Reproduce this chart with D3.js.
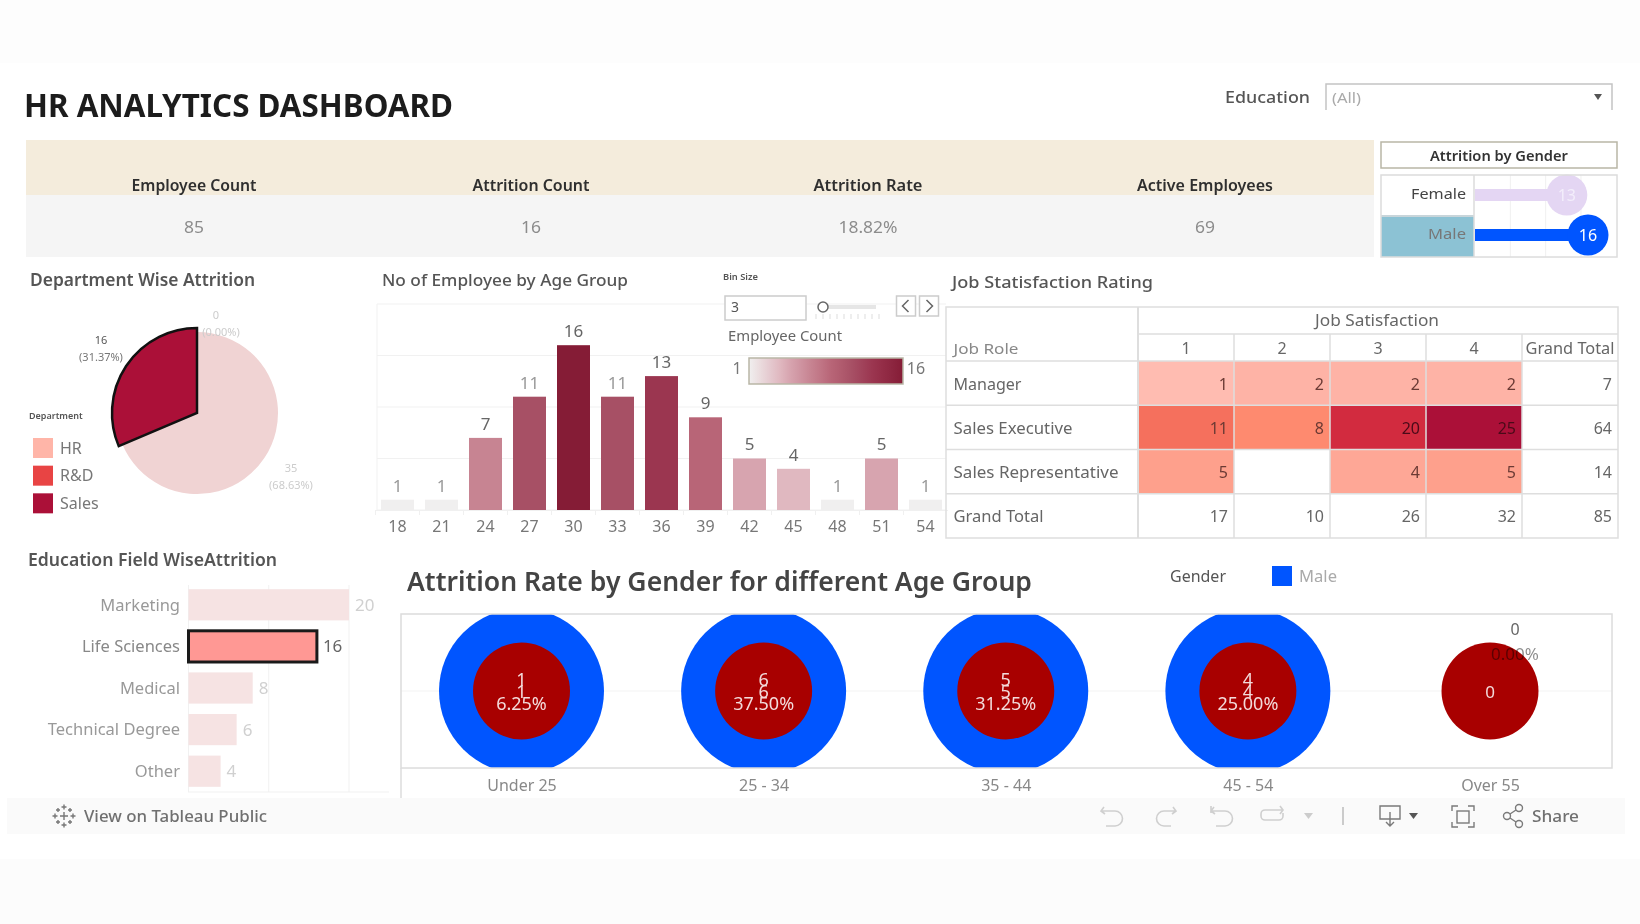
<!DOCTYPE html>
<html>
<head>
<meta charset="utf-8">
<title>HR Analytics Dashboard</title>
<script src="https://cdn.jsdelivr.net/npm/d3@7"></script>
<style>
  html, body { margin: 0; padding: 0; background: #fff; }
  svg { display: block; filter: blur(0.5px); }
  text { font-family: "Noto Sans", sans-serif; }
</style>
</head>
<body>
<svg></svg>
<script>
var width = 1640,
    height = 924;

// kpi strip
var kpiNames = ["Employee Count", "Attrition Count", "Attrition Rate", "Active Employees"];
var kpiValues = ["85", "16", "18.82%", "69"];

// attrition by gender
var genders = ["Female", "Male"];
var genderCounts = [13, 16];

// department pie
var departments = ["HR", "R&D", "Sales"];
var departmentCounts = [0, 35, 16];
var departmentPct = ["0.00%", "68.63%", "31.37%"];

// employees by age bin
var ageBins = [18, 21, 24, 27, 30, 33, 36, 39, 42, 45, 48, 51, 54];
var ageCounts = [1, 1, 7, 11, 16, 11, 13, 9, 5, 4, 1, 5, 1];

// job satisfaction table
var jobRoles = ["Manager", "Sales Executive", "Sales Representative", "Grand Total"];
var satLevels = ["1", "2", "3", "4", "Grand Total"];
var managerRow = [1, 2, 2, 2, 7];
var salesExecRow = [11, 8, 20, 25, 64];
var salesRepRow = [5, null, 4, 5, 14];
var totalRow = [17, 10, 26, 32, 85];

// education field
var eduFields = ["Marketing", "Life Sciences", "Medical", "Technical Degree", "Other"];
var eduCounts = [20, 16, 8, 6, 4];

// attrition rate by age band
var ageBands = ["Under 25", "25 - 34", "35 - 44", "45 - 54", "Over 55"];
var bandCounts = [1, 6, 5, 4, 0];
var bandRates = ["6.25%", "37.50%", "31.25%", "25.00%", "0.00%"];

var svg = d3.select("svg").attr("width", width).attr("height", height);

function txt(parent, s, x, y, o) {
  o = o || {};
  var t = parent.append("text")
    .attr("x", x).attr("y", y).attr("dy", "0.35em")
    .attr("font-size", o.size || 16)
    .attr("font-weight", o.weight || 400)
    .attr("fill", o.fill || "#666")
    .attr("text-anchor", o.anchor || "start")
    .text(s);
  if (o.w) t.attr("textLength", o.w).attr("lengthAdjust", "spacingAndGlyphs");
  if (o.opacity) t.attr("opacity", o.opacity);
  return t;
}

// page background bands
svg.append("rect").attr("width", width).attr("height", height).attr("fill", "#fff");
svg.append("rect").attr("width", width).attr("height", 63).attr("fill", "#fdfdfd");
svg.append("rect").attr("y", 859).attr("width", width).attr("height", 65).attr("fill", "#fcfcfc");

txt(svg, "HR ANALYTICS DASHBOARD", 24, 106, {size: 32, weight: 700, fill: "#1c1c1c", w: 429});

// education filter
txt(svg, "Education", 1225, 97, {size: 17, weight: 500, fill: "#555", w: 85});
svg.append("path").attr("d", "M1326,110V84H1612V110").attr("fill", "none").attr("stroke", "#c4c4c4").attr("stroke-width", 1.5);
txt(svg, "(All)", 1332, 98, {size: 14, fill: "#aaa", w: 29});
svg.append("path").attr("d", "M1594,94h8l-4,6z").attr("fill", "#555");

// kpi strip
var kpiX = d3.scalePoint().domain(kpiNames).range([194, 1205]);
svg.append("rect").attr("x", 26).attr("y", 140).attr("width", 1348).attr("height", 55).attr("fill", "#f4ecdc");
svg.append("rect").attr("x", 26).attr("y", 195).attr("width", 1348).attr("height", 62).attr("fill", "#f5f5f5");
var kpiW = [125, 117, 109, 136];
var kpiValW = [20, 20, 59, 20];
kpiNames.forEach(function(d, i) {
  txt(svg, d, kpiX(d), 185, {size: 16, weight: 600, fill: "#2f2f2f", anchor: "middle", w: kpiW[i]});
  txt(svg, kpiValues[i], kpiX(d), 227, {size: 16, fill: "#8c8c8c", anchor: "middle", w: kpiValW[i]});
});

// attrition by gender
function drawGender() {
  var g = svg.append("g");
  g.append("rect").attr("x", 1381).attr("y", 142).attr("width", 236).attr("height", 26)
    .attr("fill", "#fff").attr("stroke", "#b9b6a6").attr("stroke-width", 1.5);
  txt(g, "Attrition by Gender", 1499, 156.5, {size: 14, weight: 600, fill: "#333", anchor: "middle", w: 138});

  var x = d3.scaleLinear().domain([0, 16]).range([1475, 1588]);
  var y = d3.scaleBand().domain(genders).range([175, 255]);
  var barColor = {Female: "#e4d6f3", Male: "#0055ff"};

  g.append("rect").attr("x", 1381).attr("y", y("Male")).attr("width", 93).attr("height", 42).attr("fill", "#8cc2d4");
  g.selectAll(".grid").data([5, 10, 15]).enter().append("line")
    .attr("x1", x).attr("x2", x).attr("y1", 175).attr("y2", 257).attr("stroke", "#f0f0f0");
  g.selectAll(".bar").data(genders).enter().append("rect")
    .attr("x", x(0)).attr("y", function(d) { return y(d) + y.bandwidth() / 2 - 6; })
    .attr("width", function(d, i) { return x(genderCounts[i]) - x(0); })
    .attr("height", 12).attr("fill", function(d) { return barColor[d]; });
  g.selectAll(".dot").data(genders).enter().append("circle")
    .attr("cx", function(d, i) { return x(genderCounts[i]); })
    .attr("cy", function(d) { return y(d) + y.bandwidth() / 2; })
    .attr("r", 20.5).attr("fill", function(d) { return barColor[d]; });
  genders.forEach(function(d, i) {
    var mid = y(d) + y.bandwidth() / 2;
    txt(g, d, 1466, mid - 1, {size: 15, fill: d == "Male" ? "#777" : "#444", anchor: "end", w: d == "Male" ? 38 : 55});
    txt(g, genderCounts[i], x(genderCounts[i]), mid, {size: 16, fill: d == "Male" ? "#fff" : "#f3eefb", anchor: "middle"});
  });
  g.append("rect").attr("x", 1381).attr("y", 175).attr("width", 236).attr("height", 82)
    .attr("fill", "none").attr("stroke", "#dcdcdc").attr("stroke-width", 1.5);
  g.append("path").attr("d", "M1474,175V257M1381,216H1474").attr("stroke", "#dcdcdc").attr("stroke-width", 1.5);
}
drawGender();

// department pie
function drawDepartment() {
  var g = svg.append("g");
  txt(g, "Department Wise Attrition", 30, 280, {size: 17, weight: 600, fill: "#555", w: 225});

  var deptColor = d3.scaleOrdinal().domain(departments).range(["#ffb5a8", "#e84444", "#ab1038"]);
  var pie = d3.pie().sort(null)(departmentCounts);
  // the selected slice sits a little proud of the others
  var arc = d3.arc().innerRadius(0).outerRadius(function(d) { return d.index == 2 ? 85 : 81; });
  var pieG = g.append("g").attr("transform", "translate(197,413)");

  // labels go under the pie, the 0.00% one is mostly hidden
  txt(g, departmentCounts[0], 216, 315, {size: 11, fill: "#ccc", anchor: "middle"});
  txt(g, "(" + departmentPct[0] + ")", 221, 332, {size: 11, fill: "#ccc", anchor: "middle"});

  pieG.selectAll("path").data(pie).enter().append("path")
    .attr("d", arc)
    .attr("fill", function(d, i) { return departments[i] == "Sales" ? deptColor("Sales") : "#f0d3d3"; })
    .attr("stroke", function(d, i) { return departments[i] == "Sales" ? "#111" : "none"; })
    .attr("stroke-width", 2.5);

  txt(g, departmentCounts[2], 101, 340, {size: 11, fill: "#555", anchor: "middle"});
  txt(g, "(" + departmentPct[2] + ")", 101, 357, {size: 11, fill: "#777", anchor: "middle"});
  txt(g, departmentCounts[1], 291, 468, {size: 11, fill: "#ccc", anchor: "middle"});
  txt(g, "(" + departmentPct[1] + ")", 291, 485, {size: 11, fill: "#ccc", anchor: "middle"});

  txt(g, "Department", 29, 416, {size: 9, weight: 600, fill: "#555"});
  var ly = d3.scaleBand().domain(departments).range([435, 518]);
  departments.forEach(function(d) {
    g.append("rect").attr("x", 33).attr("y", ly(d) + 3).attr("width", 20).attr("height", 20).attr("fill", deptColor(d));
    txt(g, d, 60, ly(d) + 13, {size: 16, fill: "#777"});
  });
}
drawDepartment();

// age histogram
function drawAge() {
  var g = svg.append("g");
  txt(g, "No of Employee by Age Group", 382, 280, {size: 17, weight: 500, fill: "#555", w: 246});

  var x = d3.scaleBand().domain(ageBins).range([375.5, 947.5]).paddingInner(0.25).paddingOuter(0.125);
  var y = d3.scaleLinear().domain([0, 20]).range([510, 304]);
  var color = d3.scaleLinear().domain([1, 4, 5, 7, 9, 11, 13, 16])
    .range(["#f0efef", "#e0b8c0", "#d7a4af", "#c78492", "#b86577", "#a75065", "#9b3650", "#851c36"]);

  g.append("g").selectAll("line").data(y.ticks(4)).enter().append("line")
    .attr("x1", 377).attr("x2", 946).attr("y1", y).attr("y2", y).attr("stroke", "#f1f1f1");
  g.append("line").attr("x1", 377).attr("x2", 377).attr("y1", 304).attr("y2", 510).attr("stroke", "#f1f1f1");

  g.selectAll(".bar").data(ageBins).enter().append("rect")
    .attr("x", function(d) { return x(d); })
    .attr("y", function(d, i) { return y(ageCounts[i]); })
    .attr("width", x.bandwidth())
    .attr("height", function(d, i) { return y(0) - y(ageCounts[i]); })
    .attr("fill", function(d, i) { return color(ageCounts[i]); });

  ageBins.forEach(function(d, i) {
    txt(g, ageCounts[i], x(d) + x.bandwidth() / 2, y(ageCounts[i]) - 14, {size: 17, fill: ageCounts[i] == 1 || ageCounts[i] == 11 ? "#999" : "#666", anchor: "middle"});
  });

  var axis = g.append("g").attr("transform", "translate(0,510)").call(d3.axisBottom(x).tickSize(0).tickPadding(11));
  axis.select(".domain").attr("stroke", "#f0f0f0");
  axis.selectAll("text").attr("font-size", 16).attr("font-family", "Noto Sans").attr("fill", "#777");
  ageBins.forEach(function(d) {
    var sep = x(d) - x.step() * x.paddingInner() / 2;
    g.append("line").attr("x1", sep).attr("x2", sep).attr("y1", 510).attr("y2", 515).attr("stroke", "#f0f0f0");
  });

  // bin size control
  txt(g, "Bin Size", 723, 277, {size: 8, weight: 600, fill: "#555", w: 35});
  g.append("rect").attr("x", 725).attr("y", 296).attr("width", 81).attr("height", 24).attr("fill", "#fff").attr("stroke", "#ccc").attr("stroke-width", 1.5);
  txt(g, "3", 731, 307, {size: 14, fill: "#555"});
  g.append("line").attr("x1", 823).attr("x2", 876).attr("y1", 307).attr("y2", 307).attr("stroke", "#e6e6e6").attr("stroke-width", 4);
  g.append("circle").attr("cx", 823).attr("cy", 307).attr("r", 5).attr("fill", "#fff").attr("stroke", "#666").attr("stroke-width", 1.5);
  d3.range(816, 880, 7).forEach(function(t) {
    g.append("line").attr("x1", t).attr("x2", t).attr("y1", 314).attr("y2", 319).attr("stroke", "#ddd");
  });
  [896.5, 919.5].forEach(function(bx, i) {
    g.append("rect").attr("x", bx).attr("y", 296).attr("width", 19).attr("height", 20).attr("fill", "#fff").attr("stroke", "#ccc").attr("stroke-width", 1.5);
    g.append("path").attr("d", i == 0 ? "M" + (bx + 12) + ",300l-6,6l6,6" : "M" + (bx + 7) + ",300l6,6l-6,6")
      .attr("fill", "none").attr("stroke", "#666").attr("stroke-width", 1.5);
  });

  // colour legend
  txt(g, "Employee Count", 728, 336, {size: 14, fill: "#666", w: 114});
  var grad = svg.append("defs").append("linearGradient").attr("id", "countRamp");
  d3.range(1, 17).forEach(function(v) {
    grad.append("stop").attr("offset", (v - 1) / 15).attr("stop-color", color(v));
  });
  g.append("rect").attr("x", 749).attr("y", 358).attr("width", 154).attr("height", 26)
    .attr("fill", "url(#countRamp)").attr("stroke", "#b9b6a6").attr("stroke-width", 1.5);
  txt(g, "1", 737, 368, {size: 16, fill: "#777", anchor: "middle"});
  txt(g, "16", 916, 368, {size: 16, fill: "#777", anchor: "middle"});
}
drawAge();

// job satisfaction table
function drawTable() {
  var g = svg.append("g");
  txt(g, "Job Statisfaction Rating", 952, 282, {size: 17, weight: 500, fill: "#555", w: 201});

  var rows = [managerRow, salesExecRow, salesRepRow, totalRow];
  var x = d3.scaleBand().domain(satLevels).range([1138, 1618]);
  var y = d3.scaleBand().domain(jobRoles).range([361, 538]);
  var heat = d3.scaleLinear().domain([1, 2, 4, 5, 8, 11, 20, 25])
    .range(["#ffbcb1", "#feb3a6", "#fea796", "#fea08c", "#fe8a6f", "#f5705d", "#d22b3f", "#ab1038"]);
  var line = "#dedede";
  var roleW = [68, 119, 165, 90];

  jobRoles.forEach(function(role, r) {
    satLevels.forEach(function(level, c) {
      var v = rows[r][c];
      var shaded = r < 3 && c < 4 && v != null;
      if (shaded) {
        g.append("rect").attr("x", x(level)).attr("y", y(role)).attr("width", x.bandwidth()).attr("height", y.bandwidth()).attr("fill", heat(v));
      }
      if (v != null) {
        txt(g, v, x(level) + x.bandwidth() - 6, y(role) + y.bandwidth() / 2 + 1, {size: 16, anchor: "end", fill: shaded && v >= 20 ? "#4a0a18" : (shaded ? "#6b3a34" : "#666")});
      }
    });
    txt(g, role, 953.5, y(role) + y.bandwidth() / 2 + 1, {size: 16, fill: "#666", w: roleW[r]});
  });

  txt(g, "Job Satisfaction", 1377, 320, {size: 16, fill: "#666", anchor: "middle", w: 124});
  txt(g, "Job Role", 953.5, 349, {size: 15, fill: "#888", w: 65});
  satLevels.forEach(function(level) {
    txt(g, level, x(level) + x.bandwidth() / 2, 348, {size: 16, fill: "#666", anchor: "middle", w: level == "Grand Total" ? 89 : null});
  });

  // grid
  jobRoles.forEach(function(role) {
    g.append("line").attr("x1", 946).attr("x2", 1618).attr("y1", y(role)).attr("y2", y(role)).attr("stroke", line).attr("stroke-width", 1.5);
  });
  satLevels.forEach(function(level) {
    g.append("line").attr("x1", x(level)).attr("x2", x(level)).attr("y1", 334).attr("y2", 538).attr("stroke", line).attr("stroke-width", 1.5);
  });
  g.append("line").attr("x1", 1138).attr("x2", 1138).attr("y1", 307).attr("y2", 538).attr("stroke", line).attr("stroke-width", 2);
  g.append("line").attr("x1", 1138).attr("x2", 1618).attr("y1", 334).attr("y2", 334).attr("stroke", line).attr("stroke-width", 1.5);
  g.append("rect").attr("x", 946).attr("y", 307).attr("width", 672).attr("height", 231).attr("fill", "none").attr("stroke", line).attr("stroke-width", 1.5);
}
drawTable();

// education field bars
function drawEducation() {
  var g = svg.append("g");
  txt(g, "Education Field WiseAttrition", 28, 560, {size: 17, weight: 600, fill: "#555", w: 249});

  var x = d3.scaleLinear().domain([0, 20]).range([188.5, 349]);
  var y = d3.scaleBand().domain(eduFields).range([584, 792]).paddingInner(0.25).paddingOuter(0.125);

  g.selectAll(".grid").data([0, 10, 20]).enter().append("line")
    .attr("x1", x).attr("x2", x).attr("y1", 585).attr("y2", 792).attr("stroke", "#f1f1f1");
  g.append("line").attr("x1", 188).attr("x2", 389).attr("y1", 792).attr("y2", 792).attr("stroke", "#f1f1f1");

  g.selectAll(".bar").data(eduFields).enter().append("rect")
    .attr("x", x(0))
    .attr("y", function(d) { return y(d); })
    .attr("width", function(d, i) { return x(eduCounts[i]) - x(0); })
    .attr("height", y.bandwidth())
    .attr("fill", function(d) { return d == "Life Sciences" ? "#ff9894" : "#f6e3e3"; })
    .attr("stroke", function(d) { return d == "Life Sciences" ? "#1a1a1a" : "none"; })
    .attr("stroke-width", 3);

  eduFields.forEach(function(d, i) {
    var mid = y(d) + y.bandwidth() / 2;
    var on = d == "Life Sciences";
    txt(g, d, 180, mid, {size: 16.5, fill: on ? "#888" : "#999", anchor: "end"});
    txt(g, eduCounts[i], x(eduCounts[i]) + 6, mid, {size: 17, fill: on ? "#666" : "#d0d0d0"});
  });
}
drawEducation();

// attrition rate by age band
function drawRate() {
  var g = svg.append("g");
  txt(g, "Attrition Rate by Gender for different Age Group", 407, 582, {size: 27, weight: 600, fill: "#444", w: 625});
  txt(g, "Gender", 1170, 576, {size: 16, fill: "#555", w: 56});
  g.append("rect").attr("x", 1272).attr("y", 566).attr("width", 20).attr("height", 20).attr("fill", "#0055ff");
  txt(g, "Male", 1299, 576, {size: 16, fill: "#aaa", w: 38});

  var x = d3.scalePoint().domain(ageBands).range([521.5, 1490]);
  var y = d3.scaleLinear().domain([-1, 1]).range([768, 614]);

  svg.append("clipPath").attr("id", "plotClip").append("rect")
    .attr("x", 401).attr("y", y(1)).attr("width", 1211).attr("height", y(-1) - y(1));

  g.append("line").attr("x1", 401).attr("x2", 1612).attr("y1", y(0)).attr("y2", y(0)).attr("stroke", "#f3f3f3");

  var plot = g.append("g").attr("clip-path", "url(#plotClip)");
  // bands with no male leavers get no outer ring
  plot.selectAll(".ring").data(ageBands.filter(function(d, i) { return bandCounts[i] > 0; })).enter().append("circle")
    .attr("cx", x).attr("cy", y(0)).attr("r", 82.5).attr("fill", "#0055ff");
  plot.selectAll(".core").data(ageBands).enter().append("circle")
    .attr("cx", x).attr("cy", y(0)).attr("r", 48.5).attr("fill", "#a80000");

  ageBands.forEach(function(d, i) {
    var mid = y(0);
    if (bandCounts[i] > 0) {
      txt(g, bandCounts[i], x(d), mid - 11, {size: 18, fill: "#f3dada", anchor: "middle"});
      txt(g, bandCounts[i], x(d), mid + 1, {size: 18, fill: "#f3dada", anchor: "middle"});
      txt(g, bandRates[i], x(d), mid + 13, {size: 18, fill: "#f3dada", anchor: "middle"});
    } else {
      txt(g, bandCounts[i], x(d), mid + 1, {size: 17, fill: "#f3dada", anchor: "middle"});
      txt(g, bandCounts[i], x(d) + 25, mid - 62, {size: 16, fill: "#666", anchor: "middle"});
      txt(g, bandRates[i], x(d) + 25, mid - 37, {size: 17, fill: "#000", anchor: "middle", opacity: 0.45});
    }
  });

  g.append("rect").attr("x", 401).attr("y", y(1)).attr("width", 1211).attr("height", y(-1) - y(1))
    .attr("fill", "none").attr("stroke", "#dcdcdc").attr("stroke-width", 1.5);
  g.append("line").attr("x1", 401).attr("x2", 401).attr("y1", y(-1)).attr("y2", 798).attr("stroke", "#dcdcdc").attr("stroke-width", 1.5);

  var axis = g.append("g").attr("transform", "translate(0,768)").call(d3.axisBottom(x).tickSize(0).tickPadding(12));
  axis.select(".domain").remove();
  axis.selectAll("text").attr("font-size", 16).attr("font-family", "Noto Sans").attr("fill", "#888");
}
drawRate();

// tableau toolbar
function drawToolbar() {
  var g = svg.append("g");
  g.append("rect").attr("x", 7).attr("y", 798).attr("width", 1618).attr("height", 36).attr("fill", "#fafafa");
  txt(g, "View on Tableau Public", 84, 816, {size: 16, weight: 500, fill: "#707070", w: 183});

  var logo = g.append("g").attr("transform", "translate(64,816)").attr("stroke", "#777").attr("stroke-width", 1.4);
  [[0, 0, 4], [0, -9, 2.5], [0, 9, 2.5], [-9, 0, 2.5], [9, 0, 2.5], [-6, -6, 2], [6, -6, 2], [-6, 6, 2], [6, 6, 2]].forEach(function(p) {
    logo.append("path").attr("d", "M" + (p[0] - p[2]) + "," + p[1] + "h" + (2 * p[2]) + "M" + p[0] + "," + (p[1] - p[2]) + "v" + (2 * p[2]));
  });

  var tool = g.append("g").attr("fill", "none").attr("stroke", "#cfcfcf").attr("stroke-width", 1.6);
  tool.append("path").attr("d", "M1104,807l-3,4l4,3M1101,811h14a7,7 0 0 1 0,15h-9");
  tool.append("path").attr("d", "M1173,807l3,4l-4,3M1176,811h-12a7,7 0 0 0 0,15h7");
  tool.append("path").attr("d", "M1211,806v7M1214,807l-3,4l4,3M1211,811h14a7,7 0 0 1 0,15h-9");
  tool.append("path").attr("d", "M1280,806l3,4l-3,4M1283,810h-18a4,4 0 0 0 -4,4v2a4,4 0 0 0 4,4h14a4,4 0 0 0 4,-4v-3");
  g.append("path").attr("d", "M1304,813h9l-4.5,6z").attr("fill", "#ccc");
  g.append("line").attr("x1", 1343).attr("x2", 1343).attr("y1", 807).attr("y2", 825).attr("stroke", "#bbb").attr("stroke-width", 1.5);

  var dark = g.append("g").attr("fill", "none").attr("stroke", "#7a7a7a").attr("stroke-width", 1.4);
  dark.append("path").attr("d", "M1380,806h20v13h-20zM1390,812v14M1386,822l4,4l4,-4");
  g.append("path").attr("d", "M1409,813h9l-4.5,6z").attr("fill", "#555");
  dark.append("rect").attr("x", 1457).attr("y", 811).attr("width", 12).attr("height", 12);
  dark.append("path").attr("d", "M1452,811v-5h6M1468,806h6v5M1474,822v5h-6M1458,827h-6v-5");
  dark.append("circle").attr("cx", 1507).attr("cy", 816).attr("r", 3.5);
  dark.append("circle").attr("cx", 1519).attr("cy", 808).attr("r", 3.5);
  dark.append("circle").attr("cx", 1519).attr("cy", 824).attr("r", 3.5);
  dark.append("path").attr("d", "M1510,814l6,-4M1510,818l6,4");
  txt(g, "Share", 1532, 816, {size: 16, weight: 500, fill: "#707070", w: 47});
}
drawToolbar();
</script>
</body>
</html>
